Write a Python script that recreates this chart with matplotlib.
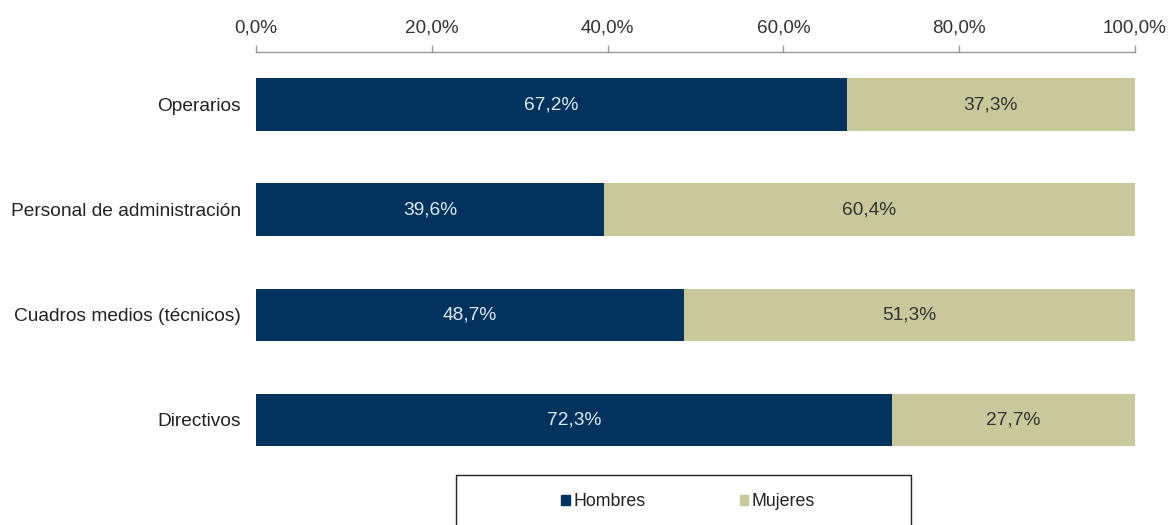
import matplotlib
matplotlib.use("Agg")
import matplotlib.pyplot as plt
from matplotlib.patches import Patch, Rectangle
from matplotlib.ticker import FuncFormatter

plt.rcParams['font.family'] = ['Liberation Sans', 'DejaVu Sans']

categories = ["Operarios", "Personal de administración",
              "Cuadros medios (técnicos)", "Directivos"]
hombres = [67.2, 39.6, 48.7, 72.3]
mujeres = [37.3, 60.4, 51.3, 27.7]
series_names = ["Hombres", "Mujeres"]
x_ticks = [0, 20, 40, 60, 80, 100]

c_h = "#02335F"
c_m = "#C8C89B"

W, H = 1169, 525
fig = plt.figure(figsize=(W / 100, H / 100), dpi=100)
ax = fig.add_axes([256 / W, 1 - 472.5 / H, (1135 - 256) / W, (472.5 - 52) / H])

ypos = list(range(len(categories)))
b1 = ax.barh(ypos, hombres, height=0.5, color=c_h, label=series_names[0])
b2 = ax.barh(ypos, mujeres, left=hombres, height=0.5, color=c_m, label=series_names[1])

ax.bar_label(b1, labels=[f"{v:.1f}%".replace(".", ",") for v in hombres],
             label_type="center", color="#DCEAF2", fontsize=13.8)
ax.bar_label(b2, labels=[f"{v:.1f}%".replace(".", ",") for v in mujeres],
             label_type="center", color="#333333", fontsize=13.8)

ax.set_xlim(0, 100)
ax.set_ylim(3.5, -0.5)
ax.set_yticks(ypos)
ax.set_yticklabels(categories)
ax.set_xticks(x_ticks)
ax.xaxis.set_major_formatter(FuncFormatter(lambda v, p: f"{v:.1f}%".replace(".", ",")))
ax.xaxis.tick_top()

for s in ["left", "right", "bottom"]:
    ax.spines[s].set_visible(False)
ax.spines["top"].set_color("#9A9A9A")
ax.spines["top"].set_linewidth(1.0)

ax.tick_params(axis="x", which="both", direction="out", length=5, width=1,
               color="#9A9A9A", pad=6, labelsize=13.6, labelcolor="#333333")
ax.tick_params(axis="y", length=0, pad=11, labelsize=13.8, labelcolor="#222222")

# legend frame running off the bottom edge
fig.patches.append(Rectangle((456 / W, 1 - 560 / H), (911 - 456) / W, (560 - 475) / H,
                             transform=fig.transFigure, fill=False,
                             edgecolor="#222222", linewidth=1.0))
handles = [Patch(color=c_h), Patch(color=c_m)]
fig.legend(handles, series_names, loc="center", bbox_to_anchor=(688 / W, 1 - 502 / H),
           ncol=2, frameon=False, fontsize=12.8, handlelength=0.5, handleheight=0.5,
           handletextpad=0.2, columnspacing=5.3, labelcolor="#222222")

fig.savefig("out.png", dpi=100)
